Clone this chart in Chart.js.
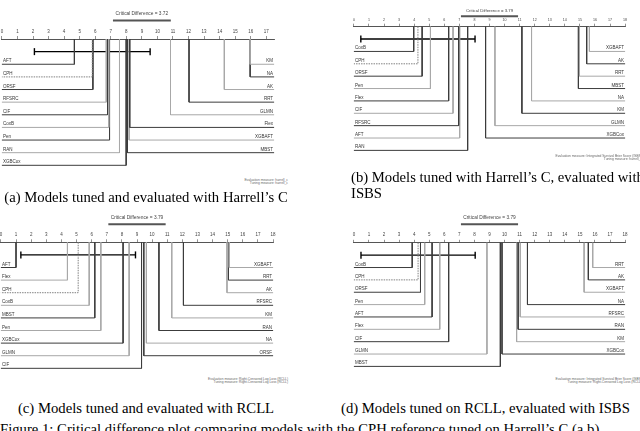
<!DOCTYPE html>
<html>
<head>
<meta charset="utf-8">
<script src="https://cdn.jsdelivr.net/npm/chart.js@4.4.1/dist/chart.umd.min.js"></script>
<style>
  body { margin: 0; width: 640px; height: 431px; overflow: hidden; background: #fff; position: relative; font-family: "Liberation Serif", "Times New Roman", serif; }
  canvas { position: absolute; }
  .cap { position: absolute; font-size: 14.7px; line-height: 16px; white-space: nowrap; color: #000; }
  .foot { position: absolute; font-family: "Liberation Sans", Arial, sans-serif; font-size: 3.3px; line-height: 3.3px; color: #666; text-align: right; white-space: nowrap; }
</style>
</head>
<body>
<canvas id="cdA"></canvas>
<canvas id="cdB"></canvas>
<canvas id="cdC"></canvas>
<canvas id="cdD"></canvas>

<div class="foot" style="right:352px; top:179px;">Evaluation measure: harrell_c<br>Tuning measure: harrell_c</div>
<div class="foot" style="right:-2px; top:155px;">Evaluation measure: Integrated Survival Brier Score (ISBS)<br>Tuning measure: harrell_c</div>
<div class="foot" style="right:352px; top:378px;">Evaluation measure: Right-Censored Log Loss (RCLL)<br>Tuning measure: Right-Censored Log Loss (RCLL)</div>
<div class="foot" style="right:-2px; top:378px;">Evaluation measure: Integrated Survival Brier Score (ISBS)<br>Tuning measure: Right-Censored Log Loss (RCLL)</div>

<div class="cap" style="left:0; width:292px; text-align:center; top:189px;">(a) Models tuned and evaluated with Harrell’s C</div>
<div class="cap" style="left:351px; top:169px;">(b) Models tuned with Harrell’s C, evaluated with<br>ISBS</div>
<div class="cap" style="left:0; width:292px; text-align:center; top:400px;">(c) Models tuned and evaluated with RCLL</div>
<div class="cap" style="left:341px; top:400px;">(d) Models tuned on RCLL, evaluated with ISBS</div>
<div class="cap" style="left:0; top:421px;">Figure 1: Critical difference plot comparing models with the CPH reference tuned on Harrell’s C (a,b)</div>

<script>
// average ranks (lower = better)

// (a) tuned and evaluated with Harrell's C
var namesA_left = ["AFT", "CPH", "ORSF", "RFSRC", "CIF", "CoxB", "Pen", "RAN", "XGBCox"];
var ranksA_left = [4.66, 5.81, 5.85, 6.71, 6.79, 6.87, 6.92, 7.56, 7.99];
var namesA_right = ["KM", "NA", "AK", "RRT", "GLMN", "Flex", "XGBAFT", "MBST"];
var ranksA_right = [15.96, 15.96, 14.30, 12.03, 10.84, 8.22, 8.18, 8.07];
var ticksA = [0, 1, 2, 3, 4, 5, 6, 7, 8, 9, 10, 11, 12, 13, 14, 15, 16, 17];
var cdA = 3.72;

// (b) tuned with Harrell's C, evaluated with ISBS
var namesB_left = ["CoxB", "CPH", "ORSF", "Pen", "Flex", "CIF", "RFSRC", "AFT", "RAN"];
var ranksB_left = [3.97, 4.25, 4.53, 5.08, 6.29, 6.58, 6.95, 7.02, 7.55];
var namesB_right = ["XGBAFT", "AK", "RRT", "MBST", "NA", "KM", "GLMN", "XGBCox"];
var ranksB_right = [15.63, 15.45, 14.97, 14.90, 11.79, 11.15, 9.36, 8.74];
var ticksB = [0, 1, 2, 3, 4, 5, 6, 7, 8, 9, 10, 11, 12, 13, 14, 15, 16, 17, 18];
var cdB = 3.79;

// (c) tuned and evaluated with RCLL
var namesC_left = ["AFT", "Flex", "CPH", "CoxB", "MBST", "Pen", "XGBCox", "GLMN", "CIF"];
var ranksC_left = [1.00, 4.40, 5.11, 5.84, 6.21, 6.61, 8.08, 8.48, 9.30];
var namesC_right = ["XGBAFT", "RRT", "AK", "RFSRC", "KM", "RAN", "NA", "ORSF"];
var ranksC_right = [15.10, 15.05, 14.95, 12.07, 11.30, 10.45, 9.62, 9.45];
var ticksC = [0, 1, 2, 3, 4, 5, 6, 7, 8, 9, 10, 11, 12, 13, 14, 15, 16, 17, 18];
var cdC = 3.79;

// (d) tuned on RCLL, evaluated with ISBS
var namesD_left = ["CoxB", "CPH", "ORSF", "Pen", "AFT", "Flex", "CIF", "GLMN", "MBST"];
var ranksD_left = [3.87, 4.26, 4.42, 4.70, 5.19, 5.70, 6.29, 8.83, 9.72];
var namesD_right = ["RRT", "AK", "XGBAFT", "NA", "RFSRC", "RAN", "KM", "XGBCox"];
var ranksD_right = [15.85, 15.56, 15.28, 11.52, 11.04, 10.90, 10.80, 9.83];
var ticksD = [0, 1, 2, 3, 4, 5, 6, 7, 8, 9, 10, 11, 12, 13, 14, 15, 16, 17, 18];
var cdD = 3.79;

var shades = ['#3c3c3c', '#a8a8a8'];
var SCALE_H = 14;
var Y_MAX = 10.3;

function drawCD(id, leftNames, leftRanks, rightNames, rightRanks, ticks, cd, lay) {

  var left = Math.floor(lay.x0) - 4;
  var top = Math.floor(lay.axisY - SCALE_H - lay.titleUp - 5);
  var xRight = lay.x0 + lay.max * lay.unit;
  var w = Math.ceil(xRight) + 4 - left;
  var yBottom = lay.axisY + Y_MAX * lay.rowGap;
  var h = Math.ceil(yBottom) + 2 - top;

  var cv = document.getElementById(id);
  cv.width = w;
  cv.height = h;
  cv.style.left = left + 'px';
  cv.style.top = top + 'px';
  cv.style.width = w + 'px';
  cv.style.height = h + 'px';

  var datasets = [];

  for (var i = 0; i < leftNames.length; i++) {
    var isRef = leftNames[i] == 'CPH';
    datasets.push({
      data: [{ x: leftRanks[i], y: 0 }, { x: leftRanks[i], y: i + 2 }, { x: 0, y: i + 2 }],
      borderColor: isRef ? '#808080' : shades[i % 2],
      borderDash: isRef ? [1.5, 1] : [],
      borderWidth: 1
    });
  }

  for (var j = 0; j < rightNames.length; j++) {
    datasets.push({
      data: [{ x: rightRanks[j], y: 0 }, { x: rightRanks[j], y: j + 2 }, { x: lay.max, y: j + 2 }],
      borderColor: shades[(j + 1) % 2],
      borderWidth: 1
    });
  }

  // interval of the reference (CPH) +/- critical difference
  var ref = leftRanks[leftNames.indexOf('CPH')];
  datasets.push({
    data: [{ x: ref - cd, y: 1 }, { x: ref + cd, y: 1 }],
    borderColor: '#000',
    borderWidth: 1.4,
    pointStyle: 'line',
    pointRotation: 90,
    pointRadius: 3.5,
    pointBorderWidth: 1.4,
    pointBorderColor: '#000'
  });

  // critical difference bar over the axis
  var barY = -lay.barUp / lay.rowGap;
  datasets.push({
    data: [{ x: 9 - cd / 2, y: barY }, { x: 9 + cd / 2, y: barY }],
    borderColor: '#555',
    borderWidth: 2
  });

  var labels = {
    id: 'rowLabels',
    afterDatasetsDraw: function (chart) {
      var ctx = chart.ctx;
      var xs = chart.scales.x;
      var ys = chart.scales.y;
      ctx.save();
      ctx.font = '4.5px "Liberation Sans", Arial, sans-serif';
      ctx.fillStyle = '#333';
      ctx.textBaseline = 'alphabetic';
      ctx.textAlign = 'left';
      for (var a = 0; a < leftNames.length; a++) {
        ctx.fillText(leftNames[a], xs.getPixelForValue(0) + 1, ys.getPixelForValue(a + 2) - 2);
      }
      ctx.textAlign = 'right';
      for (var b = 0; b < rightNames.length; b++) {
        ctx.fillText(rightNames[b], xs.getPixelForValue(lay.max) - 1, ys.getPixelForValue(b + 2) - 2);
      }
      ctx.font = lay.titleFont + 'px "Liberation Sans", Arial, sans-serif';
      ctx.fillStyle = '#444';
      ctx.textAlign = 'center';
      ctx.textBaseline = 'middle';
      ctx.fillText('Critical Difference = ' + cd.toFixed(2), xs.getPixelForValue(9), chart.chartArea.top - lay.titleUp);
      ctx.restore();
    }
  };

  var padLeft = lay.x0 - left;
  var padRight = w - (xRight - left);
  var padTop = lay.axisY - SCALE_H - top;
  var padBottom = h - (lay.axisY - top) - Y_MAX * lay.rowGap;

  new Chart(cv.getContext('2d'), {
    type: 'line',
    data: { datasets: datasets },
    plugins: [labels],
    options: {
      responsive: false,
      maintainAspectRatio: false,
      animation: false,
      events: [],
      layout: { padding: { left: padLeft, right: padRight, top: padTop, bottom: padBottom } },
      elements: {
        point: { radius: 0, hoverRadius: 0 },
        line: { tension: 0, fill: false }
      },
      datasets: { line: { clip: false } },
      plugins: { legend: { display: false }, tooltip: { enabled: false } },
      scales: {
        x: {
          type: 'linear',
          position: 'top',
          min: 0,
          max: lay.max,
          afterBuildTicks: function (s) {
            s.ticks = ticks.map(function (t) { return { value: t }; });
          },
          afterFit: function (s) { s.height = SCALE_H; },
          ticks: {
            autoSkip: false,
            maxRotation: 0,
            padding: lay.tickPad,
            color: '#444',
            font: { size: lay.tickFont, family: '"Liberation Sans", Arial, sans-serif' }
          },
          grid: { drawOnChartArea: false, drawTicks: true, tickLength: 3, color: '#777', lineWidth: 0.8 },
          border: { display: true, color: '#555', width: 1 }
        },
        y: { display: false, reverse: true, min: 0, max: Y_MAX }
      }
    }
  });
}

drawCD('cdA', namesA_left, ranksA_left, namesA_right, ranksA_right, ticksA, cdA,
  { x0: 1, unit: 15.65, max: 17.5, axisY: 39, rowGap: 12.9, titleUp: 25, barUp: 19, tickFont: 4.5, tickPad: 2, titleFont: 4.8 });
drawCD('cdB', namesB_left, ranksB_left, namesB_right, ranksB_right, ticksB, cdB,
  { x0: 353.3, unit: 15.1, max: 18, axisY: 26.7, rowGap: 12.6, titleUp: 16, barUp: 10.6, tickFont: 3.6, tickPad: 1.5, titleFont: 4.3 });
drawCD('cdC', namesC_left, ranksC_left, namesC_right, ranksC_right, ticksC, cdC,
  { x0: 0.9, unit: 15.15, max: 18, axisY: 242.3, rowGap: 12.8, titleUp: 25, barUp: 18.3, tickFont: 4.5, tickPad: 2, titleFont: 4.8 });
drawCD('cdD', namesD_left, ranksD_left, namesD_right, ranksD_right, ticksD, cdD,
  { x0: 353.3, unit: 15.1, max: 18, axisY: 242.8, rowGap: 12.6, titleUp: 25.5, barUp: 19, tickFont: 4.5, tickPad: 2, titleFont: 4.8 });
</script>
</body>
</html>
